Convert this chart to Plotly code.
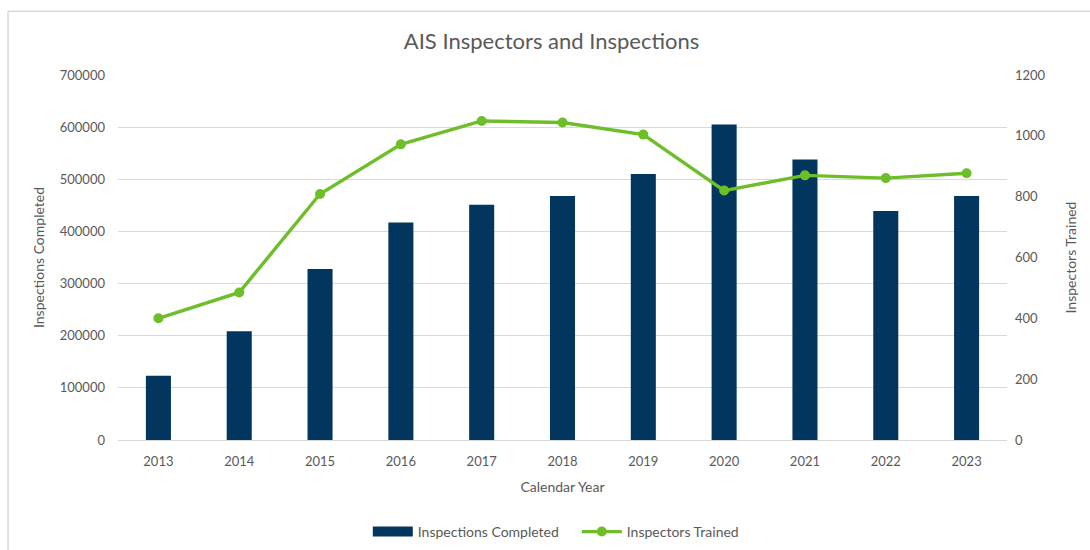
import plotly.graph_objects as go

years = ["2013", "2014", "2015", "2016", "2017", "2018", "2019", "2020", "2021", "2022", "2023"]
inspections_completed = [123000, 208500, 328000, 417000, 451000, 468000, 510000, 605000, 538000, 439000, 468000]
inspectors_trained = [400, 485, 809, 972, 1049, 1044, 1004, 820, 870, 861, 877]
left_ticks = [0, 100000, 200000, 300000, 400000, 500000, 600000, 700000]
right_ticks = [0, 200, 400, 600, 800, 1000, 1200]

FONT = "Lato, 'Open Sans', sans-serif"
TXT = "#595959"
NAVY = "#03365F"
GREEN = "#6EBE2A"

fig = go.Figure()
fig.add_trace(go.Bar(
    x=years, y=inspections_completed, name="Inspections Completed",
    marker=dict(color=NAVY, line=dict(width=0)), width=0.31, showlegend=False,
))
# legend entry drawn as a wide rectangle, like the reference
fig.add_trace(go.Scatter(
    x=[None], y=[None], name="Inspections Completed", mode="lines",
    line=dict(color=NAVY, width=11), showlegend=True, hoverinfo="skip",
))
fig.add_trace(go.Scatter(
    x=years, y=inspectors_trained, name="Inspectors Trained", yaxis="y2",
    mode="lines+markers", line=dict(color=GREEN, width=3.4),
    marker=dict(color=GREEN, size=10),
))

fig.update_layout(
    width=1090, height=550,
    paper_bgcolor="white", plot_bgcolor="white",
    margin=dict(l=118, r=83, t=75, b=110, autoexpand=False),
    font=dict(family=FONT, color=TXT, size=13),
    title=dict(text="AIS Inspectors and Inspections", x=0.506, xanchor="center",
               y=1 - 41 / 550, yanchor="middle", font=dict(size=22, color=TXT)),
    bargap=0.69,
    xaxis=dict(type="category", range=[-0.5, 10.5], showgrid=False, showline=False, zeroline=False,
               ticks="", tickfont=dict(size=13, color=TXT), automargin=False,
               ticklabelstandoff=12,
               title=dict(text="Calendar Year", font=dict(size=14, color=TXT), standoff=14)),
    yaxis=dict(range=[0, 700000], tickvals=left_ticks, ticktext=[str(v) for v in left_ticks],
               showgrid=True, gridcolor="#D9D9D9", gridwidth=1, zeroline=True,
               zerolinecolor="#D9D9D9", zerolinewidth=1, showline=False, ticks="",
               ticklabelstandoff=12, automargin=False,
               tickfont=dict(size=13, color=TXT),
               title=dict(text="Inspections Completed", font=dict(size=14, color=TXT), standoff=11)),
    yaxis2=dict(range=[0, 1200], tickvals=right_ticks, overlaying="y", side="right",
                showgrid=False, zeroline=False, showline=False, ticks="",
                ticklabelstandoff=7, automargin=False,
                tickfont=dict(size=13, color=TXT),
                title=dict(text="Inspectors Trained", font=dict(size=14, color=TXT), standoff=21)),
    legend=dict(orientation="h", x=0.281, xanchor="left", y=-0.252, yanchor="middle",
                font=dict(size=14, color=TXT), itemwidth=40, entrywidth=154,
                traceorder="normal"),
    showlegend=True,
)

# light frame lines at top and left of the chart area
fig.add_shape(type="line", xref="paper", yref="paper",
              x0=-0.1237, x1=1.1, y0=1.175, y1=1.175,
              line=dict(color="#D9D9D9", width=1.5))
fig.add_shape(type="line", xref="paper", yref="paper",
              x0=-0.1237, x1=-0.1237, y0=1.175, y1=-0.31,
              line=dict(color="#D9D9D9", width=1.5))

fig.write_html("out.html", config={"displayModeBar": False},
               post_script="document.body.style.margin='0';")
